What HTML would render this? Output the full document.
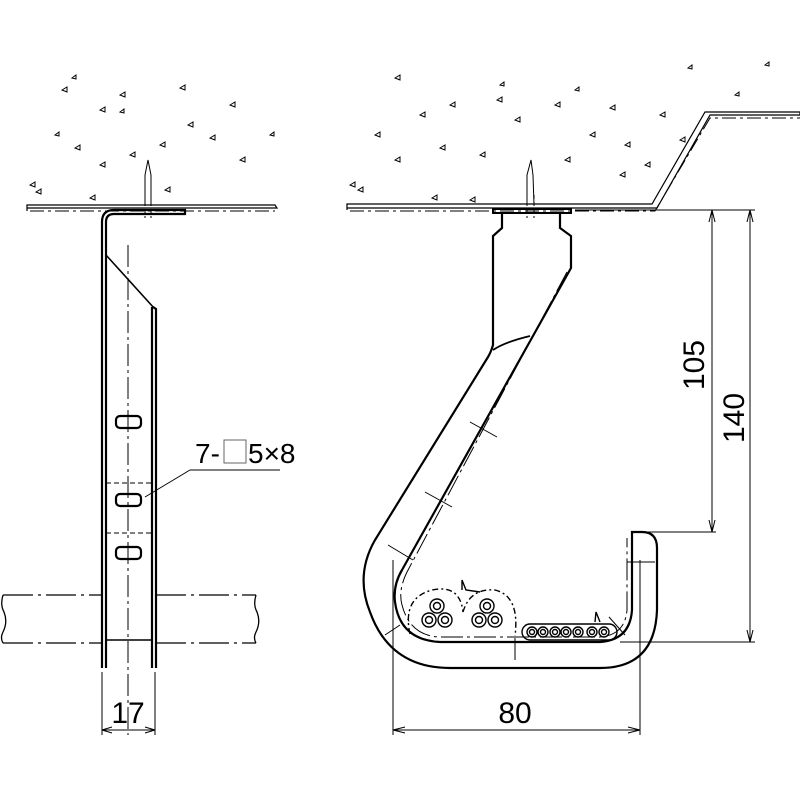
<!DOCTYPE html>
<html><head><meta charset="utf-8"><style>html,body{margin:0;padding:0;background:#fff}svg{display:block}</style></head>
<body>
<svg width="800" height="800" viewBox="0 0 800 800" xmlns="http://www.w3.org/2000/svg" font-family="Liberation Sans, sans-serif">
<g fill="none" stroke="#000" stroke-width="1.2">
<g stroke-width="1">
<path d="M62,90l5,-3l0,5z M100,110l5,-3l0,5z M120,95l5,-3l0,5z M180,88l5,-3l0,5z M230,105l5,-3l0,5z M75,148l5,-3l0,5z M130,155l5,-3l0,5z M160,145l5,-3l0,5z M188,125l5,-3l0,5z M240,160l5,-3l0,5z M210,138l5,-3l0,5z M100,165l5,-3l0,5z M30,185l5,-3l0,5z M36,192l5,-3l0,5z M90,198l5,-3l0,5z M165,190l5,-3l0,5z M270,135l4,-3l0,4z M55,135l4,-3l0,4z M120,112l4,-3l0,4z M72,78l4,-3l0,4z"/>
<path d="M395,78l5,-3l0,5z M420,115l5,-3l0,5z M450,105l5,-3l0,5z M497,100l5,-3l0,5z M515,120l5,-3l0,5z M555,105l5,-3l0,5z M590,135l5,-3l0,5z M610,108l5,-3l0,5z M625,145l5,-3l0,5z M660,115l5,-3l0,5z M680,140l5,-3l0,5z M375,135l5,-3l0,5z M395,160l5,-3l0,5z M440,148l5,-3l0,5z M480,155l5,-3l0,5z M565,160l5,-3l0,5z M645,165l5,-3l0,5z M620,175l5,-3l0,5z M350,185l5,-3l0,5z M358,190l5,-3l0,5z M432,198l5,-3l0,5z M470,200l5,-3l0,5z M735,95l4,-3l0,4z M688,68l4,-3l0,4z M765,65l4,-3l0,4z M500,85l4,-3l0,4z M575,90l4,-3l0,4z"/>
</g>
<path d="M27,211 L27,205 L275,205 L277,208 L27,208" />
<line x1="30" y1="211" x2="275" y2="211" stroke-dasharray="14,4,3,4" stroke-width="1"/>
<path d="M347,210 L347,204 L652,204 L705,112 L800,112 L800,115 L710,115 L657,208 L347,208"/>
<path d="M350,211 L655,211 L710,118 L800,118" stroke-dasharray="14,4,3,4" stroke-width="1"/>
<path d="M145,205 L145,175 L148,160 L151,175 L151,205" stroke-width="1"/>
<path d="M145,195 L145,218 M151,195 L151,218" stroke-dasharray="4,3" stroke-width="1"/>
<path d="M527,205 L527,175 L531,160 L533,175 L534,205" stroke-width="1"/>
<path d="M527,195 L527,218 M534,195 L534,218" stroke-dasharray="4,3" stroke-width="1"/>
</g>

<g fill="none" stroke="#000" stroke-width="2.2">
<path d="M102,668 L102,222 Q102,210 114,210 L185,210 L185,214 L114,214 Q106,214 106,222 L106,668"/>
<path d="M152,668 L152,307 M156,668 L156,309 L153,307"/>
<line x1="106" y1="255" x2="154" y2="308" stroke-width="1.6"/>
<line x1="106" y1="640" x2="152" y2="640" stroke-width="1.6"/>
<rect x="116" y="416" width="25" height="12" rx="4"/>
<rect x="116" y="494" width="25" height="12" rx="4"/>
<rect x="116" y="547" width="25" height="12" rx="4"/>
</g>
<g fill="none" stroke="#000" stroke-width="1">
<line x1="128" y1="245" x2="128" y2="735" stroke-dasharray="22,4,3,4"/>
<line x1="106" y1="483" x2="152" y2="483" stroke-dasharray="5,3"/>
<line x1="106" y1="533" x2="152" y2="533" stroke-dasharray="5,3"/>
<path d="M3,595 L102,595 M156,595 L256,595 M3,643 L102,643 M156,643 L256,643" stroke-dasharray="30,5,3,5" stroke-width="1.3"/>
<path d="M3,595 Q0,605 4,612 Q8,622 3,632 Q0,638 3,643 M256,595 Q253,605 257,612 Q261,622 256,632 Q253,638 256,643" stroke-width="1.3"/>
<line x1="190" y1="470" x2="280" y2="470"/>
<line x1="190" y1="470" x2="145" y2="497"/>
<rect x="224" y="440" width="22" height="23" stroke="#666"/>
<line x1="102" y1="672" x2="102" y2="735"/>
<line x1="155" y1="672" x2="155" y2="735"/>
<line x1="102" y1="730" x2="155" y2="730"/>
<path d="M102,730 l10,-3 M102,730 l10,3 M155,730 l-10,-3 M155,730 l-10,3"/>
</g>
<text x="195" y="463" font-size="28">7-</text>
<text x="248" y="463" font-size="28">5×8</text>
<text x="128" y="723" font-size="30" text-anchor="middle">17</text>

<g fill="none" stroke="#000" stroke-width="2.2">
<path d="M493,209 L571,209 L571,213 L493,213 Z" stroke-width="2"/>
<path d="M502,213 L502,228 L493,236 L493,345 Q491,352 488,357 L375,540 Q355,575 370,612 Q390,668 450,668 L600,668 Q655,668 657,610 L657,548 Q657,532 642,532 L632,532 L632,610 Q630,640 600,642 L440,642 Q400,640 395,602 Q393,585 402,570 L571,268 L571,236 L560,228 L560,213"/>
<path d="M493,350 Q505,342 530,336" stroke-width="1.8"/>
</g>
<g fill="none" stroke="#000" stroke-width="1">
<path d="M567,272 L407,572 Q398,590 402,605 Q410,636 440,637 L600,637 Q625,635 627,610 L627,538" stroke-dasharray="22,4,3,4"/>
<path d="M470,422 L497,437 M425,492 L452,507 M388,545 L413,560 M627,562 L655,562 M609,617 L625,635 M515,638 L515,660 M400,625 L385,635"/>
<g stroke-width="1.4">
<circle cx="437" cy="606" r="7"/><circle cx="437" cy="606" r="3.5"/>
<circle cx="429" cy="620" r="7"/><circle cx="429" cy="620" r="3.5"/>
<circle cx="445" cy="620" r="7"/><circle cx="445" cy="620" r="3.5"/>
<circle cx="487" cy="606" r="7"/><circle cx="487" cy="606" r="3.5"/>
<circle cx="479" cy="620" r="7"/><circle cx="479" cy="620" r="3.5"/>
<circle cx="495" cy="620" r="7"/><circle cx="495" cy="620" r="3.5"/>
<path d="M410,634 Q402,598 432,590 Q460,584 463,612 M463,612 Q470,588 495,590 Q520,596 515,636" stroke-dasharray="6,3,2,3"/>
<path d="M462,590 L462,580 L466,590 L480,592"/>
<rect x="522" y="624" width="95" height="16" rx="8"/>
<circle cx="532" cy="632" r="5"/><circle cx="532" cy="632" r="2.5"/>
<circle cx="543" cy="632" r="5"/><circle cx="543" cy="632" r="2.5"/>
<circle cx="555" cy="632" r="5"/><circle cx="555" cy="632" r="2.5"/>
<circle cx="566" cy="632" r="5"/><circle cx="566" cy="632" r="2.5"/>
<circle cx="578" cy="632" r="5"/><circle cx="578" cy="632" r="2.5"/>
<circle cx="592" cy="632" r="5"/><circle cx="592" cy="632" r="2.5"/>
<circle cx="604" cy="632" r="5"/><circle cx="604" cy="632" r="2.5"/>
<path d="M595,622 L596,612 L600,622"/>
</g>
<line x1="575" y1="210" x2="755" y2="210"/>
<line x1="645" y1="532" x2="716" y2="532"/>
<line x1="620" y1="642" x2="755" y2="642"/>
<line x1="712" y1="210" x2="712" y2="532"/>
<path d="M712,210 l-3,12 M712,210 l3,12 M712,532 l-3,-12 M712,532 l3,-12"/>
<line x1="750" y1="210" x2="750" y2="642"/>
<path d="M750,210 l-3,12 M750,210 l3,12 M750,642 l-3,-12 M750,642 l3,-12"/>
<line x1="393" y1="560" x2="393" y2="735"/>
<line x1="640" y1="560" x2="640" y2="735"/>
<line x1="393" y1="730" x2="640" y2="730"/>
<path d="M393,730 l12,-3 M393,730 l12,3 M640,730 l-12,-3 M640,730 l-12,3"/>
</g>
<text x="515" y="723" font-size="30" text-anchor="middle">80</text>
<text transform="translate(704,365) rotate(-90)" font-size="30" text-anchor="middle">105</text>
<text transform="translate(744,418) rotate(-90)" font-size="30" text-anchor="middle">140</text>
</svg>
</body></html>
